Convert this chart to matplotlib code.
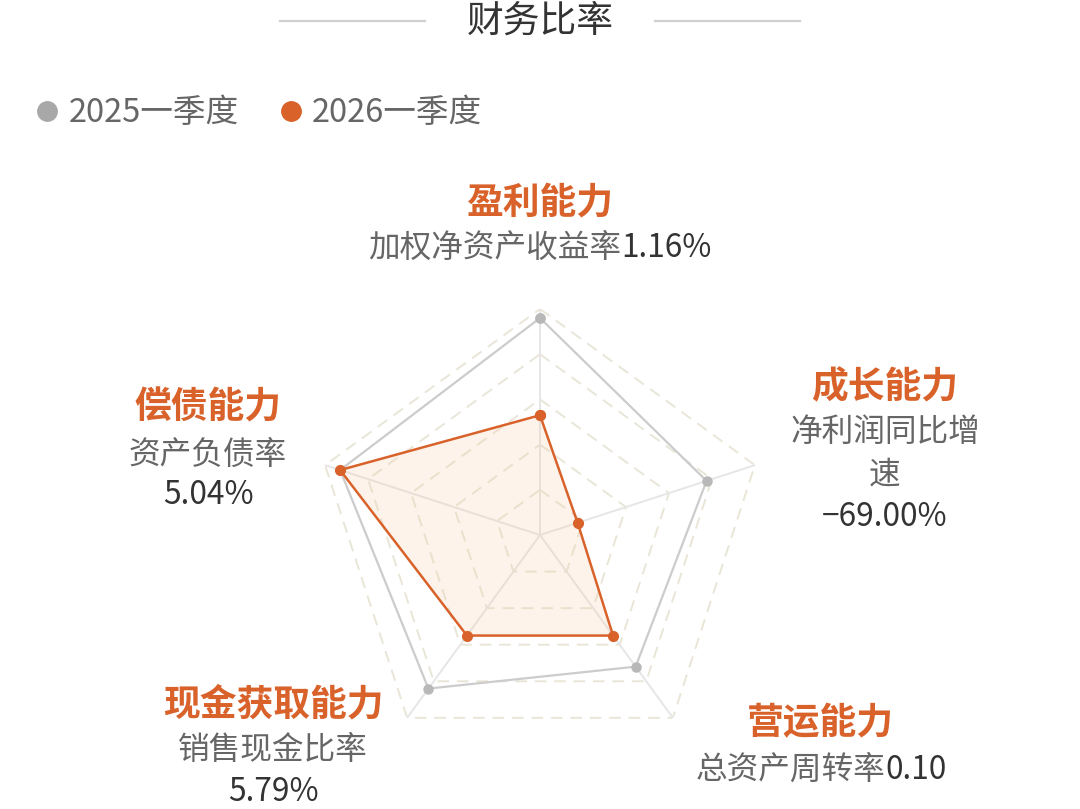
import numpy as np
import matplotlib
matplotlib.use('Agg')
import matplotlib.pyplot as plt
from matplotlib.lines import Line2D

plt.rcParams['font.family'] = ['Noto Sans CJK SC', 'DejaVu Sans']

# data
categories = ['盈利能力', '成长能力', '营运能力', '现金获取能力', '偿债能力']
metric_names = ['加权净资产收益率', '净利润同比增速', '总资产周转率', '销售现金比率', '资产负债率']
metric_values = ['1.16%', '−69.00%', '0.10', '5.79%', '5.04%']
series_names = ['2025一季度', '2026一季度']
score_2025 = [0.96, 0.775, 0.72, 0.84, 0.93]
score_2026 = [0.53, 0.175, 0.55, 0.55, 0.93]
grid_levels = [0.2, 0.4, 0.6, 0.8, 1.0]

ORANGE = '#d9622b'
GRAY_DOT = '#a8a8a8'
W, H = 1080, 809

fig = plt.figure(figsize=(W / 100, H / 100), dpi=100)
fig.patch.set_facecolor('white')


def fx(x):
    return x / W


def fy(y):
    return 1 - y / H


# radar axes, centre (540, 535) px, radius 226 px
cx, cy, R = 540, 535, 226
ax = fig.add_axes([fx(cx - R), fy(cy + R), 2 * R / W, 2 * R / H], projection='polar')
ax.set_theta_offset(np.pi / 2)
ax.set_theta_direction(-1)
ax.set_ylim(0, 1)
ax.grid(False)
ax.spines['polar'].set_visible(False)
ax.set_xticks([])
ax.set_yticks([])
ax.patch.set_alpha(0)

n = len(categories)
angles = np.linspace(0, 2 * np.pi, n, endpoint=False)
ang_c = np.append(angles, angles[0])

for lv in grid_levels:
    ax.plot(ang_c, [lv] * (n + 1), color='#e9e6d8', lw=1.4, ls=(0, (6, 4)), zorder=1)
for a in angles:
    ax.plot([a, a], [0, 1], color='#e6e6e6', lw=1.4, zorder=1)

v25 = np.append(score_2025, score_2025[0])
v26 = np.append(score_2026, score_2026[0])
ax.plot(ang_c, v25, color='#cccccc', lw=1.6, marker='o', ms=6.5,
        mfc='#b8b8b8', mec='#b8b8b8', zorder=3)
ax.fill(ang_c, v26, color='#f7c9a0', alpha=0.22, zorder=2, lw=0)
ax.plot(ang_c, v26, color=ORANGE, lw=1.8, marker='o', ms=7,
        mfc=ORANGE, mec=ORANGE, zorder=4)

# title with side lines
fig.text(fx(540), fy(21), '财务比率', ha='center', va='center', fontsize=26.5, color='#333333')
fig.add_artist(Line2D([fx(280), fx(425)], [fy(21), fy(21)], color='#d0d0d0', lw=1.6))
fig.add_artist(Line2D([fx(655), fx(800)], [fy(21), fy(21)], color='#d0d0d0', lw=1.6))

# legend
handles = [Line2D([], [], ls='none', marker='o', ms=14, mfc=c, mec=c)
           for c in [GRAY_DOT, ORANGE]]
leg = fig.legend(handles, series_names, loc='center left', bbox_to_anchor=(fx(31), fy(113)),
                 ncol=2, frameon=False, fontsize=23.5, handletextpad=0.15, columnspacing=1.1,
                 handlelength=1.0, borderaxespad=0, borderpad=0)
for t in leg.get_texts():
    t.set_color('#666666')

# axis labels
cat_kw = dict(ha='center', va='center', fontsize=26.5, color=ORANGE, fontweight='bold')
sub_kw = dict(ha='center', va='center', fontsize=22.8, color='#666666')
val_kw = dict(ha='center', va='center', fontsize=22.8, color='#333333')

# top: 盈利能力
fig.text(fx(540), fy(203), categories[0], **cat_kw)
# 成长能力
fig.text(fx(885), fy(388), categories[1], **cat_kw)
fig.text(fx(885), fy(432), metric_names[1][:6], **sub_kw)
fig.text(fx(885), fy(474), metric_names[1][6:], **sub_kw)
fig.text(fx(885), fy(517), metric_values[1], **val_kw)
# 营运能力
fig.text(fx(820), fy(724), categories[2], **cat_kw)
# 现金获取能力
fig.text(fx(273), fy(705), categories[3], **cat_kw)
fig.text(fx(273), fy(750), metric_names[3], **sub_kw)
fig.text(fx(273), fy(792), metric_values[3], **val_kw)
# 偿债能力
fig.text(fx(208), fy(408), categories[4], **cat_kw)
fig.text(fx(208), fy(455), metric_names[4], **sub_kw)
fig.text(fx(208), fy(495), metric_values[4], **val_kw)

# two-coloured single-line labels, centred as a whole
inline = [(0, 540, 248), (2, 821, 770)]
pairs = []
for i, x, y in inline:
    t1 = fig.text(fx(x), fy(y), metric_names[i], **dict(sub_kw, ha='left'))
    t2 = fig.text(fx(x), fy(y), metric_values[i], **dict(val_kw, ha='left'))
    pairs.append((t1, t2, x))
fig.canvas.draw()
r = fig.canvas.get_renderer()
for t1, t2, x in pairs:
    w1 = t1.get_window_extent(r).width
    w2 = t2.get_window_extent(r).width
    x0 = x - (w1 + w2) / 2
    t1.set_x(fx(x0))
    t2.set_x(fx(x0 + w1))

fig.savefig('out.png', dpi=100, facecolor='white')
